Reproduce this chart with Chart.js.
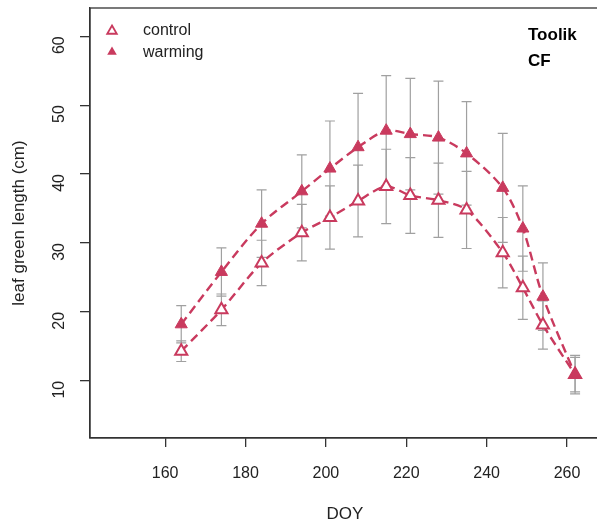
<!DOCTYPE html>
<html lang="en">
<head>
    <meta charset="UTF-8">
    <title>Toolik CF leaf green length</title>
    <style>
        html, body { margin: 0; padding: 0; background: white; overflow: hidden; }
        #wrap { position: relative; width: 600px; height: 525px; }
    </style>
</head>
<body>
    <div id="wrap"><canvas id="myChart"></canvas></div>

    <script src="https://cdn.jsdelivr.net/npm/chart.js"></script>

    <script>
        // data
        const doy = [164, 174, 184, 194, 201, 208, 215, 221, 228, 235, 244, 249, 254, 262]
        const control = [14.3, 20.3, 27.1, 31.5, 33.7, 36.1, 38.2, 36.9, 36.2, 34.8, 28.6, 23.5, 18.1, 10.9]
        const controlErr = [1.5, 2.3, 3.3, 4.1, 4.6, 5.2, 5.4, 5.5, 5.4, 5.6, 5.1, 4.6, 3.5, 2.5]
        const warming = [18.2, 25.8, 32.8, 37.5, 40.8, 43.9, 46.3, 45.8, 45.3, 43.0, 38.0, 32.1, 22.2, 10.9]
        const warmingErr = [2.7, 3.5, 4.9, 5.3, 6.9, 7.8, 8.0, 8.1, 8.2, 7.5, 7.9, 6.2, 4.9, 2.8]
        const xTicks = [160, 180, 200, 220, 240, 260]
        const yTicks = [10, 20, 30, 40, 50, 60]

        const red = '#c93a5e'
        const font = "'Liberation Sans', Arial, sans-serif"

        const toPts = (ys) => doy.map((x, i) => ({ x: x, y: ys[i] }))

        // gray error bars with caps, under the lines
        const errorBars = {
            id: 'errorBars',
            beforeDatasetsDraw(chart) {
                const c = chart.ctx, xs = chart.scales.x, ys = chart.scales.y
                c.save()
                c.strokeStyle = '#a0a0a0'
                c.lineWidth = 1.2
                const bar = (x, lo, hi) => {
                    const px = xs.getPixelForValue(x)
                    const p1 = ys.getPixelForValue(lo), p2 = ys.getPixelForValue(hi)
                    c.beginPath()
                    c.moveTo(px, p1); c.lineTo(px, p2)
                    c.moveTo(px - 5, p1); c.lineTo(px + 5, p1)
                    c.moveTo(px - 5, p2); c.lineTo(px + 5, p2)
                    c.stroke()
                }
                doy.forEach((x, i) => {
                    bar(x, control[i] - controlErr[i], control[i] + controlErr[i])
                    bar(x, warming[i] - warmingErr[i], warming[i] + warmingErr[i])
                })
                c.restore()
            },
            afterDraw(chart) {
                const c = chart.ctx, a = chart.chartArea
                c.save()
                // box
                c.strokeStyle = '#333'
                c.lineWidth = 1.3
                c.strokeRect(a.left, a.top, a.right - a.left, a.bottom - a.top)
                // legend
                const tri = (x, y, r, filled) => {
                    c.beginPath()
                    c.moveTo(x, y - r)
                    c.lineTo(x + r * 0.87, y + r * 0.5)
                    c.lineTo(x - r * 0.87, y + r * 0.5)
                    c.closePath()
                    if (filled) { c.fillStyle = red; c.fill() }
                    else { c.fillStyle = 'white'; c.fill(); c.strokeStyle = red; c.lineWidth = 1.8; c.stroke() }
                }
                tri(112, 31, 5.5, false)
                tri(112, 52, 5.5, true)
                c.fillStyle = '#222'
                c.font = '16px ' + font
                c.textBaseline = 'middle'
                c.textAlign = 'left'
                c.fillText('control', 143, 31)
                c.fillText('warming', 143, 53)
                c.fillStyle = '#000'
                c.font = 'bold 17px ' + font
                c.fillText('Toolik', 528, 35)
                c.fillText('CF', 528, 61)
                c.restore()
            }
        }

        var ctx = document.getElementById('myChart')
        var myChart = new Chart(ctx, {
            type: 'line',
            data: {
                datasets: [{
                    label: 'warming',
                    data: toPts(warming),
                    borderColor: red,
                    backgroundColor: red,
                    borderWidth: 2.4,
                    borderDash: [9, 5],
                    tension: 0.3,
                    pointStyle: 'triangle',
                    pointRadius: 7,
                    pointBorderWidth: 1,
                    pointBackgroundColor: red,
                    pointBorderColor: red
                }, {
                    label: 'control',
                    data: toPts(control),
                    borderColor: red,
                    backgroundColor: 'white',
                    borderWidth: 2.4,
                    borderDash: [9, 5],
                    tension: 0.3,
                    pointStyle: 'triangle',
                    pointRadius: 7,
                    pointBorderWidth: 2,
                    pointBackgroundColor: 'white',
                    pointBorderColor: red
                }]
            },
            options: {
                responsive: true,
                maintainAspectRatio: false,
                animation: false,
                layout: { autoPadding: false, padding: { top: 8, right: 0, left: 0, bottom: 0 } },
                plugins: { legend: { display: false }, tooltip: { enabled: false } },
                scales: {
                    x: {
                        type: 'linear',
                        min: 141.3,
                        max: 268.2,
                        afterBuildTicks: (s) => { s.ticks = xTicks.map(v => ({ value: v })) },
                        afterFit: (s) => { s.height = 87; s.paddingLeft = 0; s.paddingRight = 0 },
                        grid: { drawOnChartArea: false, drawTicks: true, tickLength: 9, color: '#333', lineWidth: 1.3 },
                        border: { display: true, color: '#333', width: 1.3 },
                        ticks: { color: '#222', font: { family: font, size: 16 }, padding: 17, maxRotation: 0 },
                        title: { display: true, text: 'DOY', color: '#222', font: { family: font, size: 17 }, padding: { top: -2, bottom: 0 } }
                    },
                    y: {
                        min: 1.7,
                        max: 64.1,
                        afterBuildTicks: (s) => { s.ticks = yTicks.map(v => ({ value: v })) },
                        afterFit: (s) => { s.width = 90; s.paddingTop = 0; s.paddingBottom = 0 },
                        grid: { drawOnChartArea: false, drawTicks: true, tickLength: 10, color: '#333', lineWidth: 1.3 },
                        border: { display: true, color: '#333', width: 1.3 },
                        ticks: { color: '#222', font: { family: font, size: 16 }, padding: 20, minRotation: 90, maxRotation: 90 },
                        title: { display: true, text: 'leaf green length (cm)', color: '#222', font: { family: font, size: 17 }, padding: { top: 9, bottom: 0 } }
                    }
                }
            },
            plugins: [errorBars]
        })
    </script>
</body>
</html>
